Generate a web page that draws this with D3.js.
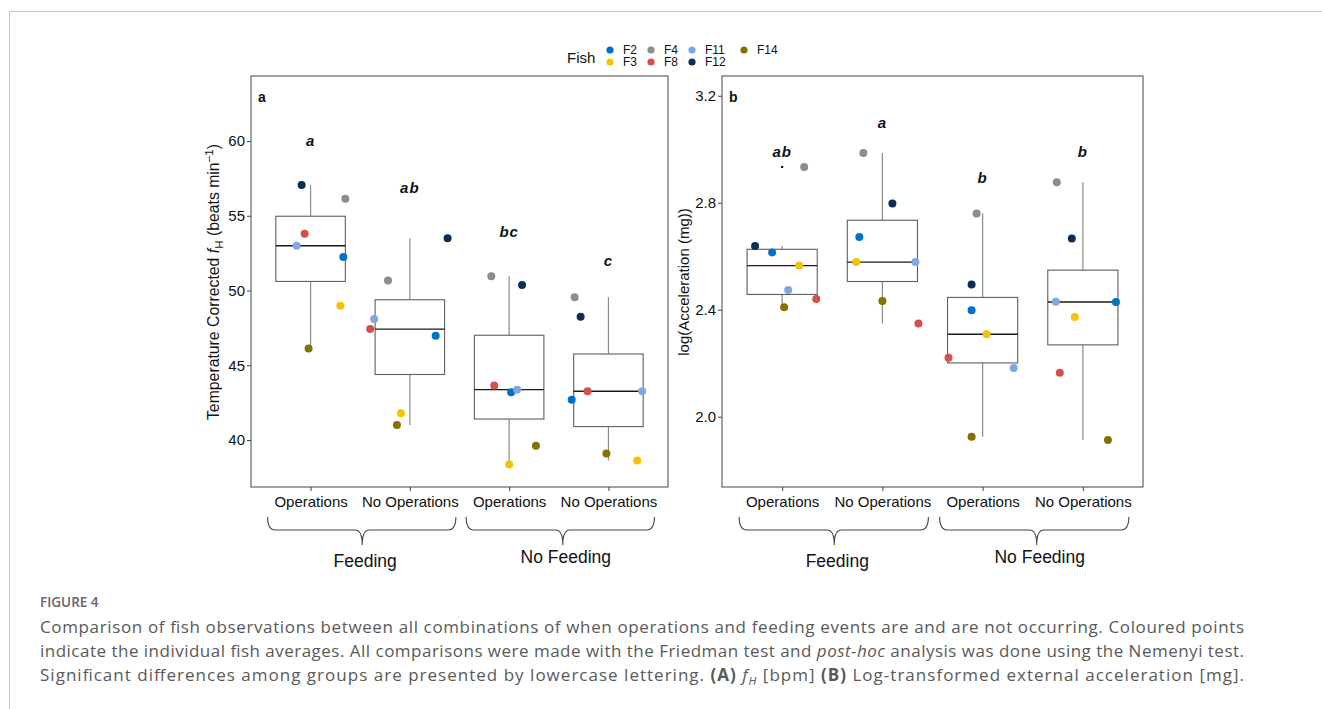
<!DOCTYPE html>
<html>
<head>
<meta charset="utf-8">
<script src="https://cdn.jsdelivr.net/npm/d3@7"></script>
<style>
  html, body { margin: 0; padding: 0; background: #fff; }
  svg { display: block; }
</style>
</head>
<body>
<svg id="chart" width="1322" height="709"></svg>
<script>
// ---------------- DATA ----------------
const categories = ["Operations", "No Operations", "Operations", "No Operations"];
const groups = ["Feeding", "No Feeding"];
const fish = ["F2", "F3", "F4", "F8", "F11", "F12", "F14"];
const fishColors = ["#0072c6", "#f5c400", "#8c8c8c", "#d4504b", "#7fa8e0", "#0b2d57", "#857000"];
const legendOrder = ["F2", "F4", "F11", "F14", "F3", "F8", "F12"];

// Panel a: temperature corrected fH, values per category in fish order
const hrOps_Feed     = [52.24, 48.98, 56.14, 53.80, 53.00, 57.06, 46.13];
const hrNoOps_Feed   = [46.98, 41.79, 50.68, 47.42, 48.09, 53.49, 41.00];
const hrOps_NoFeed   = [43.19, 38.37, 50.95, 43.65, 43.37, 50.37, 39.62];
const hrNoOps_NoFeed = [42.70, 38.64, 49.55, 43.26, 43.26, 48.25, 39.10];
// horizontal jitter (category units)
const hrJitter = [
  [0.33, 0.30, 0.35, -0.06, -0.14, -0.09, -0.02],
  [0.26, -0.09, -0.22, -0.40, -0.36, 0.38, -0.13],
  [0.02, 0.00, -0.18, -0.15, 0.08, 0.13, 0.27],
  [-0.37, 0.29, -0.34, -0.21, 0.34, -0.28, -0.02]
];
const hrLetters = ["a", "ab", "bc", "c"];
const hrLetterY = [60.0, 56.9, 53.9, 52.0];
const hrTicks = [40, 45, 50, 55, 60];

// Panel b: log(Acceleration (mg))
const accOps_Feed     = [2.614, 2.565, 2.934, 2.440, 2.474, 2.638, 2.409];
const accNoOps_Feed   = [2.672, 2.578, 2.986, 2.348, 2.578, 2.797, 2.433];
const accOps_NoFeed   = [2.398, 2.308, 2.760, 2.220, 2.182, 2.494, 1.925];
const accNoOps_NoFeed = [2.429, 2.373, 2.877, 2.164, 2.430, 2.666, 1.913];
const accJitter = [
  [-0.10, 0.17, 0.22, 0.34, 0.06, -0.27, 0.02],
  [-0.23, -0.26, -0.19, 0.36, 0.33, 0.10, 0.00],
  [-0.11, 0.04, -0.06, -0.34, 0.31, -0.11, -0.11],
  [0.33, -0.08, -0.26, -0.23, -0.27, -0.11, 0.25]
];
const accLetters = ["ab", "a", "b", "b"];
const accLetterY = [2.99, 3.098, 2.892, 2.99];
const accTicks = [2.0, 2.4, 2.8, 3.2];

// ---------------- DRAW ----------------
const svg = d3.select("#chart");
const FONT = "Liberation Sans, Arial, sans-serif";

// outer frame lines
svg.append("line").attr("x1", 9.5).attr("x2", 1322).attr("y1", 11.5).attr("y2", 11.5)
  .attr("stroke", "#c8c8c8").attr("stroke-width", 1);
svg.append("line").attr("x1", 9.5).attr("x2", 9.5).attr("y1", 11.5).attr("y2", 709)
  .attr("stroke", "#c8c8c8").attr("stroke-width", 1);

function stats(vals) {
  const s = vals.slice().sort(d3.ascending);
  const q1 = d3.quantile(s, 0.25), med = d3.quantile(s, 0.5), q3 = d3.quantile(s, 0.75);
  const iqr = q3 - q1;
  const lo = q1 - 1.5 * iqr, hi = q3 + 1.5 * iqr;
  const inside = s.filter(v => v >= lo && v <= hi);
  return { q1, med, q3, wlo: d3.min(inside), whi: d3.max(inside), out: s.filter(v => v < lo || v > hi) };
}

function panel(opts) {
  const { x0, x1, y0, y1, ydom, series, jitter, letters, letterY, ticks, fmt, label } = opts;
  const g = svg.append("g");
  const x = d3.scaleLinear().domain([0.4, 4.6]).range([x0, x1]);
  const y = d3.scaleLinear().domain(ydom).range([y1, y0]);
  const bw = 0.7;

  // boxes
  series.forEach((vals, i) => {
    const st = stats(vals);
    const cx = x(i + 1);
    const bx0 = x(i + 1 - bw / 2), bx1 = x(i + 1 + bw / 2);
    g.append("line").attr("x1", cx).attr("x2", cx).attr("y1", y(st.q3)).attr("y2", y(st.whi))
      .attr("stroke", "#8a8a8a").attr("stroke-width", 1.2);
    g.append("line").attr("x1", cx).attr("x2", cx).attr("y1", y(st.q1)).attr("y2", y(st.wlo))
      .attr("stroke", "#8a8a8a").attr("stroke-width", 1.2);
    g.append("rect").attr("x", bx0).attr("y", y(st.q3)).attr("width", bx1 - bx0)
      .attr("height", y(st.q1) - y(st.q3)).attr("fill", "#fff")
      .attr("stroke", "#5e5e5e").attr("stroke-width", 1.1);
    g.append("line").attr("x1", bx0).attr("x2", bx1).attr("y1", y(st.med)).attr("y2", y(st.med))
      .attr("stroke", "#1a1a1a").attr("stroke-width", 1.4);
    st.out.forEach(v => {
      g.append("circle").attr("cx", cx).attr("cy", y(v)).attr("r", 1.2).attr("fill", "#000");
    });
  });

  // points
  series.forEach((vals, i) => {
    vals.forEach((v, k) => {
      g.append("circle").attr("cx", x(i + 1 + jitter[i][k])).attr("cy", y(v)).attr("r", 4)
        .attr("fill", fishColors[k]);
    });
  });

  // significance letters
  letters.forEach((t, i) => {
    g.append("text").attr("x", x(i + 1)).attr("y", y(letterY[i])).attr("dy", "0.35em")
      .attr("text-anchor", "middle").attr("font-family", FONT).attr("font-size", 15)
      .attr("font-weight", "bold").attr("font-style", "italic").attr("letter-spacing", 1)
      .attr("fill", "#111").text(t);
  });

  // frame
  g.append("rect").attr("x", x0).attr("y", y0).attr("width", x1 - x0).attr("height", y1 - y0)
    .attr("fill", "none").attr("stroke", "#444").attr("stroke-width", 1);

  // axes
  const ya = g.append("g").attr("transform", `translate(${x0},0)`)
    .call(d3.axisLeft(y).tickValues(ticks).tickFormat(fmt).tickSize(4).tickPadding(2));
  ya.select(".domain").remove();
  ya.selectAll("line").attr("stroke", "#444");
  ya.selectAll("text").attr("font-family", FONT).attr("font-size", 15).attr("fill", "#111");

  const xa = g.append("g").attr("transform", `translate(0,${y1})`)
    .call(d3.axisBottom(x).tickValues([1, 2, 3, 4]).tickFormat((d, i) => categories[i]).tickSize(4).tickPadding(5));
  xa.select(".domain").remove();
  xa.selectAll("line").attr("stroke", "#444");
  xa.selectAll("text").attr("font-family", FONT).attr("font-size", 15).attr("fill", "#111");

  // panel label
  g.append("text").attr("x", x0 + 7).attr("y", y0 + 26).attr("font-family", FONT)
    .attr("font-size", 14).attr("font-weight", "bold").attr("fill", "#111").text(label);

  // braces + group labels
  [[1, 2], [3, 4]].forEach((pair, gi) => {
    const a = x(pair[0]) - 43, b = x(pair[1]) + 46;
    const m = (x(pair[0]) + x(pair[1])) / 2 + (gi === 0 ? 2 : 4);
    const top = 517, bot = 530, tip = 545;
    const p = `M${a},${top} Q${a},${bot} ${a + 8},${bot} L${m - 7},${bot} Q${m},${bot} ${m},${tip} ` +
              `Q${m},${bot} ${m + 7},${bot} L${b - 8},${bot} Q${b},${bot} ${b},${top}`;
    g.append("path").attr("d", p).attr("fill", "none").attr("stroke", "#444").attr("stroke-width", 1.1);
    g.append("text").attr("x", m + 3).attr("y", gi === 0 ? 567 : 563)
      .attr("text-anchor", "middle").attr("font-family", FONT).attr("font-size", 17.5)
      .attr("fill", "#111").text(groups[gi]);
  });
  return { x, y, g };
}

panel({
  x0: 251, x1: 668, y0: 76, y1: 487, ydom: [36.86, 64.35],
  series: [hrOps_Feed, hrNoOps_Feed, hrOps_NoFeed, hrNoOps_NoFeed],
  jitter: hrJitter, letters: hrLetters, letterY: hrLetterY, ticks: hrTicks,
  fmt: d3.format("d"), label: "a"
});
panel({
  x0: 722, x1: 1143, y0: 76, y1: 487, ydom: [1.737, 3.274],
  series: [accOps_Feed, accNoOps_Feed, accOps_NoFeed, accNoOps_NoFeed],
  jitter: accJitter, letters: accLetters, letterY: accLetterY, ticks: accTicks,
  fmt: d3.format(".1f"), label: "b"
});

// y axis titles
const t1 = svg.append("text").attr("transform", "translate(219,282) rotate(-90)")
  .attr("text-anchor", "middle").attr("font-family", FONT).attr("font-size", 15.8).attr("fill", "#111");
t1.append("tspan").text("Temperature Corrected ");
t1.append("tspan").attr("font-style", "italic").text("f");
t1.append("tspan").attr("font-size", 11.5).attr("dy", 4).text("H");
t1.append("tspan").attr("dy", -4).text("  (beats min");
t1.append("tspan").attr("font-size", 11.5).attr("dy", -6).text("−1");
t1.append("tspan").attr("dy", 6).text(")");

svg.append("text").attr("transform", "translate(689,282) rotate(-90)")
  .attr("text-anchor", "middle").attr("font-family", FONT).attr("font-size", 15).attr("fill", "#111")
  .text("log(Acceleration (mg))");

// legend
const leg = svg.append("g");
leg.append("text").attr("x", 567).attr("y", 63).attr("font-family", FONT).attr("font-size", 15)
  .attr("fill", "#111").text("Fish");
const colX = [610, 651, 692, 744];
legendOrder.forEach((f, i) => {
  const row = i < 4 ? 0 : 1, col = i < 4 ? i : i - 4;
  const k = fish.indexOf(f);
  const cy = row === 0 ? 50 : 62;
  leg.append("circle").attr("cx", colX[col]).attr("cy", cy).attr("r", 3.6).attr("fill", fishColors[k]);
  leg.append("text").attr("x", colX[col] + 13).attr("y", cy).attr("dy", "0.36em")
    .attr("font-family", FONT).attr("font-size", 12).attr("fill", "#111").text(f);
});

// caption
const CAP = "Open Sans, Noto Sans, sans-serif";
svg.append("text").attr("x", 40).attr("y", 607).attr("font-family", CAP).attr("font-size", 13.5)
  .attr("font-weight", 600).attr("fill", "#666").text("FIGURE 4");
const capLines = [
  [["Comparison of fish observations between all combinations of when operations and feeding events are and are not occurring. Coloured points", ""]],
  [["indicate the individual fish averages. All comparisons were made with the Friedman test and ", ""], ["post-hoc", "i"], [" analysis was done using the Nemenyi test.", ""]],
  [["Significant differences among groups are presented by lowercase lettering. ", ""], ["(A)", "b"], [" ", ""], ["f", "i"], ["H", "is"], [" [bpm] ", ""], ["(B)", "b"], [" Log-transformed external acceleration [mg].", ""]]
];
const capY = [633, 657, 681];
const capWidth = [1204, 1204, 1204];
capLines.forEach((parts, li) => {
  const t = svg.append("text").attr("x", 40).attr("y", capY[li]).attr("font-family", CAP)
    .attr("font-size", 17).attr("fill", "#595959")
    .attr("textLength", capWidth[li]).attr("lengthAdjust", "spacing");
  parts.forEach(([s, st]) => {
    const sp = t.append("tspan").text(s);
    if (st === "i") sp.attr("font-style", "italic");
    if (st === "b") sp.attr("font-weight", 700);
    if (st === "is") { sp.attr("font-style", "italic").attr("font-size", 11.5).attr("dy", 4); }
    else if (li === 2 && s === " [bpm] ") sp.attr("dy", -4);
  });
});
</script>
</body>
</html>
